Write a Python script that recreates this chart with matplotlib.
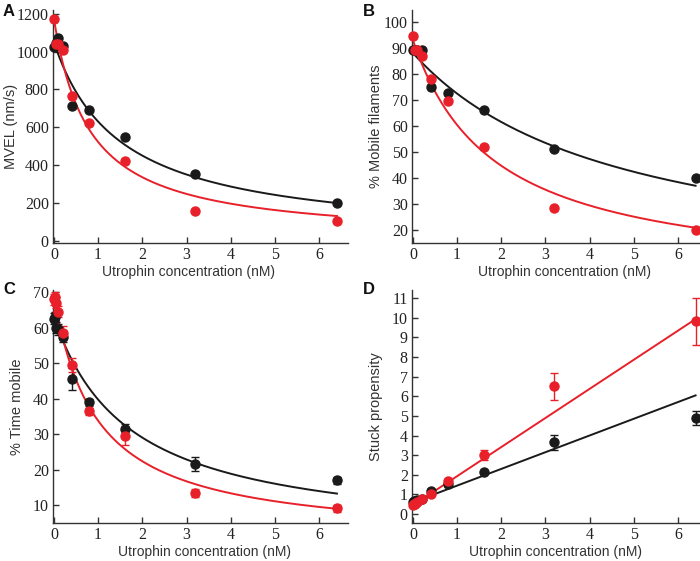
import numpy as np
import matplotlib
matplotlib.use("Agg")
import matplotlib.pyplot as plt

RED = "#e8202a"
BLK = "#1a1a1a"

# concentrations (nM)
conc_ab = [0, 0.05, 0.1, 0.2, 0.4, 0.8, 1.6, 3.2, 6.4]
conc_cd = [0, 0.025, 0.05, 0.1, 0.2, 0.4, 0.8, 1.6, 3.2, 6.4]

# A: MVEL (nm/s)
mvel_black = [1025, 1045, 1070, 1030, 710, 690, 550, 355, 200]
mvel_red = [1175, 1040, 1040, 1010, 765, 620, 420, 155, 105]

# B: % mobile filaments
mob_black = [89, 89, 89, 89, 75, 72.5, 66, 51, 40]
mob_red = [94.5, 89, 89, 87, 78, 69.5, 52, 28.5, 20]

# C: % time mobile (mean, sem)
tm_black = [62.5, 63, 60, 59.5, 57.5, 45.5, 39, 31.5, 21.5, 17]
tm_black_err = [1.5, 1.5, 1.5, 1.5, 1.5, 3, 1, 1.5, 2, 1]
tm_red = [68, 68.5, 67, 64.5, 58.5, 49.5, 36.5, 29.5, 13.5, 9.2]
tm_red_err = [1.5, 1.5, 1.5, 1.5, 2, 2, 1, 2.5, 1.2, 1]

# D: stuck propensity (mean, sem)
sp_black = [0.6, 0.65, 0.65, 0.7, 0.75, 1.2, 1.55, 2.15, 3.65, 4.9]
sp_black_err = [0.1, 0.1, 0.1, 0.1, 0.1, 0.1, 0.15, 0.1, 0.4, 0.35]
sp_red = [0.45, 0.5, 0.5, 0.6, 0.75, 1.05, 1.7, 3.0, 6.5, 9.8]
sp_red_err = [0.1, 0.1, 0.1, 0.1, 0.1, 0.1, 0.1, 0.25, 0.7, 1.2]

# fit parameters: hyperbolic y = a / (1 + x/K), linear y = b + m x
fit_a = {"black": (1050, 1.5), "red": (1175, 0.8)}
fit_b = {"black": (88, 4.64), "red": (93, 1.85)}
fit_c = {"black": (63, 1.71), "red": (69, 0.96)}
fit_d = {"black": (0.6, 0.85), "red": (0.45, 1.48)}

xs = np.linspace(0, 6.4, 300)

plt.rcParams["font.family"] = ["Liberation Sans", "DejaVu Sans"]
fig = plt.figure(figsize=(7, 5.61), dpi=100)

H_top = (243 - 10) / 561
H_bot = (523 - 290) / 561
axA = fig.add_axes([53 / 700, 1 - 243 / 561, 295 / 700, H_top])
axB = fig.add_axes([412 / 700, 1 - 243 / 561, 288 / 700, H_top])
axC = fig.add_axes([53 / 700, 1 - 523 / 561, 295 / 700, H_bot])
axD = fig.add_axes([412 / 700, 1 - 523 / 561, 288 / 700, H_bot])


def style(ax, ylabel, xlab_x, ylab_x):
    for s in ["top", "right"]:
        ax.spines[s].set_visible(False)
    for s in ["left", "bottom"]:
        ax.spines[s].set_color("#333333")
        ax.spines[s].set_linewidth(1.0)
    ax.tick_params(direction="in", length=4, width=1, color="#333333", pad=3)
    for lab in ax.get_xticklabels() + ax.get_yticklabels():
        lab.set_family("Liberation Serif")
        lab.set_fontsize(11.5)
        lab.set_color("#222222")
    ax.set_xlabel("Utrophin concentration (nM)", fontsize=10, color="#333333")
    ax.set_ylabel(ylabel, fontsize=10.5, color="#333333")
    ax.xaxis.set_label_coords(xlab_x, -0.095)
    ax.yaxis.set_label_coords(ylab_x, 0.5)


def hyper(p):
    a, k = p
    return a / (1 + xs / k)


def points(ax, x, y, err, color):
    if err is None:
        ax.plot(x, y, "o", color=color, ms=6.5, clip_on=False, zorder=3)
    else:
        ax.errorbar(x, y, yerr=err, fmt="o", color=color, ms=6.5, capsize=3,
                    elinewidth=1, capthick=1, clip_on=False, zorder=3)


# A
axA.plot(xs, hyper(fit_a["black"]), color=BLK, lw=1.4)
axA.plot(xs, hyper(fit_a["red"]), color=RED, lw=1.4)
points(axA, conc_ab, mvel_black, None, BLK)
points(axA, conc_ab, mvel_red, None, RED)
axA.set_xlim(-0.02, 6.65)
axA.set_ylim(-12, 1220)
axA.set_xticks(range(7))
axA.set_yticks(range(0, 1201, 200))
style(axA, "MVEL (nm/s)", 0.46, -0.12)

# B
axB.plot(xs, hyper(fit_b["black"]), color=BLK, lw=1.4)
axB.plot(xs, hyper(fit_b["red"]), color=RED, lw=1.4)
points(axB, conc_ab, mob_black, None, BLK)
points(axB, conc_ab, mob_red, None, RED)
axB.set_xlim(-0.02, 6.5)
axB.set_ylim(15, 104.5)
axB.set_xticks(range(7))
axB.set_yticks(range(20, 101, 10))
style(axB, "% Mobile filaments", 0.53, -0.10)

# C
axC.plot(xs, hyper(fit_c["black"]), color=BLK, lw=1.4)
axC.plot(xs, hyper(fit_c["red"]), color=RED, lw=1.4)
points(axC, conc_cd, tm_black, tm_black_err, BLK)
points(axC, conc_cd, tm_red, tm_red_err, RED)
axC.set_xlim(-0.02, 6.65)
axC.set_ylim(5, 70.6)
axC.set_xticks(range(7))
axC.set_yticks(range(10, 71, 10))
style(axC, "% Time mobile", 0.515, -0.10)

# D
b0, m0 = fit_d["black"]
b1, m1 = fit_d["red"]
axD.plot(xs, b0 + m0 * xs, color=BLK, lw=1.4)
axD.plot(xs, b1 + m1 * xs, color=RED, lw=1.4)
points(axD, conc_cd, sp_black, sp_black_err, BLK)
points(axD, conc_cd, sp_red, sp_red_err, RED)
axD.set_xlim(-0.02, 6.5)
axD.set_ylim(-0.45, 11.4)
axD.set_xticks(range(7))
axD.set_yticks(range(0, 12))
style(axD, "Stuck propensity", 0.497, -0.10)

# panel letters
for letter, (x, y) in zip("ABCD", [(3, 4), (363, 4), (3, 282), (363, 282)]):
    fig.text(x / 700, 1 - y / 561, letter, fontsize=12, fontweight="bold",
             ha="left", va="top", color="#111111")

fig.savefig("out.png", dpi=100)
